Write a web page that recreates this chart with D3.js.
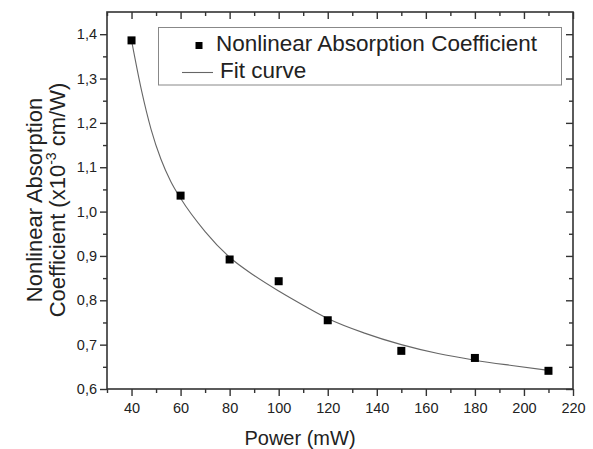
<!DOCTYPE html>
<html>
<head>
<meta charset="utf-8">
<script src="https://cdn.jsdelivr.net/npm/d3@7"></script>
<style>
  html, body { margin: 0; padding: 0; background: #fff; }
  svg { display: block; }
  text { font-family: "Liberation Sans", Arial, sans-serif; fill: #222; }
</style>
</head>
<body>
<svg id="chart" width="593" height="449"></svg>
<script>
// ---- data ----
const powers = [40, 60, 80, 100, 120, 150, 180, 210];
const coefficients = [1.386, 1.036, 0.892, 0.843, 0.755, 0.686, 0.670, 0.641];

// fit curve
const fitX = [40, 44, 48, 52, 56, 60, 70, 80, 90, 100, 110, 120, 135, 150, 165, 180, 195, 210];
const fitY = [1.386, 1.275, 1.185, 1.118, 1.068, 1.030, 0.955, 0.897, 0.856, 0.821, 0.789, 0.759, 0.726, 0.700, 0.680, 0.665, 0.653, 0.642];

const xMajorTicks = [40, 60, 80, 100, 120, 140, 160, 180, 200, 220];
const xMinorTicks = [30, 50, 70, 90, 110, 130, 150, 170, 190, 210];
const yMajorTicks = [0.6, 0.7, 0.8, 0.9, 1.0, 1.1, 1.2, 1.3, 1.4];
const yMinorTicks = [0.65, 0.75, 0.85, 0.95, 1.05, 1.15, 1.25, 1.35];
const yTickLabels = ["0,6", "0,7", "0,8", "0,9", "1,0", "1,1", "1,2", "1,3", "1,4"];

const legendLabels = ["Nonlinear Absorption Coefficient", "Fit curve"];
const xTitle = "Power (mW)";

// ---- layout ----
const L = 107, R = 573, T = 12, B = 389;
const svg = d3.select("#chart");

const x = d3.scaleLinear().domain([30, 220]).range([L, R]);
const y = d3.scaleLinear().domain([0.6, 1.45]).range([B, T]);

const axisColor = "#333";

function styleAxis(g) {
  g.select(".domain").remove();
  g.selectAll(".tick line").attr("stroke", axisColor).attr("stroke-width", 1.4);
}

// bottom axis (outward ticks)
svg.append("g").attr("transform", `translate(0,${B})`)
  .call(d3.axisBottom(x).tickValues(xMinorTicks).tickSize(4).tickFormat(""))
  .call(styleAxis);
const xb = svg.append("g").attr("transform", `translate(0,${B})`)
  .call(d3.axisBottom(x).tickValues(xMajorTicks).tickSize(7).tickPadding(7).tickFormat(d3.format("d")))
  .call(styleAxis);
xb.selectAll(".tick text").attr("font-size", 14.5).attr("fill", "#333")
  .style("font-family", "'Liberation Sans', Arial, sans-serif");

// top axis (inward ticks)
svg.append("g").attr("transform", `translate(0,${T})`)
  .call(d3.axisBottom(x).tickValues(xMinorTicks).tickSize(4).tickFormat(""))
  .call(styleAxis);
svg.append("g").attr("transform", `translate(0,${T})`)
  .call(d3.axisBottom(x).tickValues(xMajorTicks).tickSize(7).tickFormat(""))
  .call(styleAxis);

// left axis (outward ticks)
svg.append("g").attr("transform", `translate(${L},0)`)
  .call(d3.axisLeft(y).tickValues(yMinorTicks).tickSize(4).tickFormat(""))
  .call(styleAxis);
const yl = svg.append("g").attr("transform", `translate(${L},0)`)
  .call(d3.axisLeft(y).tickValues(yMajorTicks).tickSize(7).tickPadding(3)
    .tickFormat((d, i) => yTickLabels[i]))
  .call(styleAxis);
yl.selectAll(".tick text").attr("font-size", 14.5).attr("fill", "#333")
  .style("font-family", "'Liberation Sans', Arial, sans-serif");

// right axis (inward ticks)
svg.append("g").attr("transform", `translate(${R},0)`)
  .call(d3.axisLeft(y).tickValues(yMinorTicks).tickSize(4).tickFormat(""))
  .call(styleAxis);
svg.append("g").attr("transform", `translate(${R},0)`)
  .call(d3.axisLeft(y).tickValues(yMajorTicks).tickSize(7).tickFormat(""))
  .call(styleAxis);

// frame
svg.append("rect").attr("x", L).attr("y", T).attr("width", R - L).attr("height", B - T)
  .attr("fill", "none").attr("stroke", axisColor).attr("stroke-width", 1.6);

// fit curve
const line = d3.line().x(d => x(d[0])).y(d => y(d[1])).curve(d3.curveMonotoneX);
svg.append("path").datum(fitX.map((v, i) => [v, fitY[i]]))
  .attr("d", line).attr("fill", "none").attr("stroke", "#666").attr("stroke-width", 1.1);

// data points
const sq = 8;
svg.append("g").selectAll("rect").data(powers).join("rect")
  .attr("x", (d) => x(d) - sq / 2)
  .attr("y", (d, i) => y(coefficients[i]) - sq / 2)
  .attr("width", sq).attr("height", sq).attr("fill", "#000");

// legend
const lg = svg.append("g");
lg.append("rect").attr("x", 158.5).attr("y", 27.5).attr("width", 403).attr("height", 57.5)
  .attr("fill", "#fff").attr("stroke", "#888").attr("stroke-width", 1);
lg.append("rect").attr("x", 195.5).attr("y", 42).attr("width", 7).attr("height", 7).attr("fill", "#000");
lg.append("text").attr("x", 216).attr("y", 51).attr("font-size", 22.5).text(legendLabels[0]);
lg.append("line").attr("x1", 182).attr("x2", 213).attr("y1", 72.5).attr("y2", 72.5)
  .attr("stroke", "#666").attr("stroke-width", 1.1);
lg.append("text").attr("x", 220).attr("y", 77.5).attr("font-size", 22.5).text(legendLabels[1]);

// x title
svg.append("text").attr("x", 300).attr("y", 445).attr("text-anchor", "middle")
  .attr("font-size", 20).text(xTitle);

// y title (two lines)
const yt1 = svg.append("text").attr("transform", "translate(42,200) rotate(-90)")
  .attr("text-anchor", "middle").attr("font-size", 22).text("Nonlinear Absorption");
const yt2 = svg.append("text").attr("transform", "translate(65,200) rotate(-90)")
  .attr("text-anchor", "middle").attr("font-size", 22);
yt2.append("tspan").text("Coefficient (x10");
yt2.append("tspan").attr("font-size", 14).attr("dy", -9).text("-3");
yt2.append("tspan").attr("dy", 9).text(" cm/W)");
</script>
</body>
</html>
